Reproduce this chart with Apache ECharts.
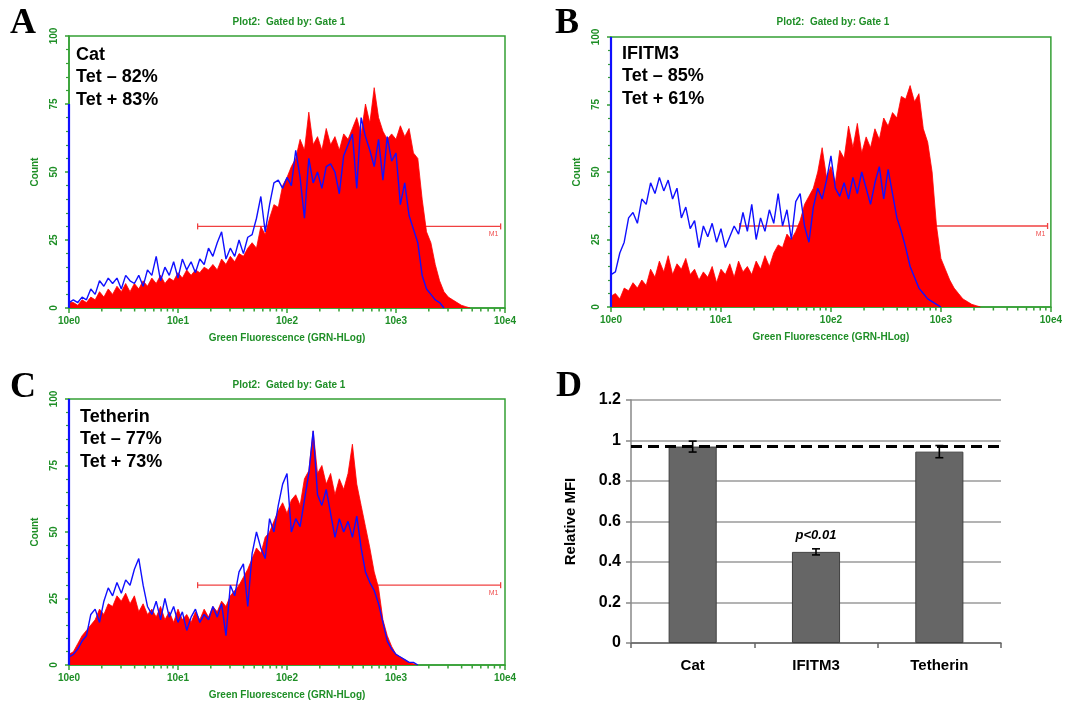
<!DOCTYPE html>
<html>
<head>
<meta charset="utf-8">
<script src="https://cdn.jsdelivr.net/npm/echarts@6/dist/echarts.min.js"></script>
<style>
html, body { margin: 0; padding: 0; background: #fff; }
#main { width: 1065px; height: 701px; }
</style>
</head>
<body>
<div id="main"></div>
<script>
// histogram bins: index i sits at decade i * binWidth (log10 of GRN-HLog)
var binWidth = 0.04;
var xTickLabels = ['10e0', '10e1', '10e2', '10e3', '10e4'];

// A - Cat
var catRed = [2, 2,1,3,2,4,3,6,4,7,5,8,6, 9,6,9,7,10,8,11,9,12,9,11,10, 13,11,14,12,14,13,15,14,16,14,18,16,
  19,17,20,19,22,24,22,30,27,33,38,37,45, 48,52,55,62,58,72,60,63,58,66,60,63,58,
  64,62,66,70,64,75,68,81,70,65,62,64, 62,67,63,66,57,55,40,28,24,16,10,6,4,3,2,1,0.5,0];
var catBlue = [2, 3,2,4,3,7,5,10,8,11,9,11,7, 12,10,9,12,8,14,12,19,10,15,12,17, 11,18,14,17,13,18,16,22,19,24,28,18,
  22,19,25,20,26,27,33,41,28,38,46,47,44, 48,45,58,48,33,55,46,50,44,52,53,50,42,
  56,60,64,44,70,63,58,52,62,47,63,54, 57,38,46,34,29,24,12,7,5,3,2,0];
var catSpikes = [50, 75];          // red, blue count at 10e0
var catGate = [1.18, 3.96, 30];    // M1 from, to (decades), level
var catText = ['Cat', 'Tet \u2013 82%', 'Tet + 83%'];

// B - IFITM3
var ifitmRed = [4, 5,3,7,6,9,7,10,8,14,11,17,13, 19,12,16,14,18,12,14,10,13,11,15,9, 14,12,16,11,17,13,15,12,17,14,19,15,
  20,23,22,27,25,28,32,38,41,44,50,59,48, 52,46,58,55,67,59,68,57,63,59,66,62,70,
  67,72,70,78,77,82,76,79,66,61,50,30, 18,14,10,7,5,3,2,1,0.5,0];
var ifitmBlue = [12, 13,20,24,33,35,31,40,38,46,42,48,43, 47,40,44,33,37,29,32,22,30,26,31,24, 29,22,26,30,27,35,28,38,25,33,28,36,
  31,42,30,36,25,39,42,30,24,37,44,40,47, 56,44,41,46,40,48,42,50,44,38,46,52,40,
  51,42,33,28,22,15,11,7,5,3,2,1, 0];
var ifitmSpikes = [41, 100];
var ifitmGate = [1.17, 3.97, 30];
var ifitmText = ['IFITM3', 'Tet \u2013 85%', 'Tet + 61%'];

// C - Tetherin
var tethRed = [4, 5,8,11,13,15,17,21,19,23,22,26,24, 27,23,26,20,23,19,21,18,22,17,20,16, 21,17,19,16,20,17,21,18,22,20,24,22,
  26,28,30,33,36,40,44,42,48,50,54,58,61, 57,62,64,60,70,73,88,72,75,68,72,64,70,
  66,72,83,68,60,52,44,35,29,17,11,7, 4,3,2,1,0.5,0];
var tethBlue = [3, 4,6,9,11,19,21,16,24,29,26,31,27, 32,30,36,40,30,22,19,24,17,25,18,22, 16,20,13,18,21,16,19,17,22,18,23,11,
  30,26,35,38,22,42,50,44,40,55,50,60,68, 72,50,55,52,62,72,88,64,60,66,57,48,55,
  50,54,48,56,44,35,31,28,23,16,9,6, 4,3,2,1,1,0];
var tethSpikes = [36, 100];
var tethGate = [1.18, 3.96, 30];
var tethText = ['Tetherin', 'Tet \u2013 77%', 'Tet + 73%'];

// D - relative MFI
var categories = ['Cat', 'IFITM3', 'Tetherin'];
var mfi = [0.97, 0.45, 0.945];
var mfiErr = [0.027, 0.015, 0.03];
var refLine = 0.975;
var pIndex = 1;
var pText = 'p<0.01';

var green = '#35a035';
var textGreen = '#1f8f27';

var myChart = echarts.init(document.getElementById('main'), null, { renderer: 'canvas' });

var panels = [
  { red: catRed, blue: catBlue, spikes: catSpikes, gate: catGate, text: catText,
    grid: { left: 69, top: 36, width: 436, height: 272 }, letter: 'A', letterPos: [10, 24],
    titlePos: [289, 22], textPos: [76, 55] },
  { red: ifitmRed, blue: ifitmBlue, spikes: ifitmSpikes, gate: ifitmGate, text: ifitmText,
    grid: { left: 611, top: 37, width: 440, height: 270 }, letter: 'B', letterPos: [555, 24],
    titlePos: [833, 22], textPos: [622, 54] },
  { red: tethRed, blue: tethBlue, spikes: tethSpikes, gate: tethGate, text: tethText,
    grid: { left: 69, top: 399, width: 436, height: 273 }, letter: 'C', letterPos: [10, 388],
    titlePos: [289, 385], textPos: [80, 417] }
];

function toPairs(arr) {
  return arr.map(function (v, i) { return [+(i * binWidth).toFixed(2), v]; });
}

// log-spaced minor ticks (2..9 inside each decade)
var minorTicks = [];
for (var d = 0; d < 4; d++) {
  for (var k = 2; k <= 9; k++) minorTicks.push([d + Math.log10(k), 0]);
}

var grids = [], xAxes = [], yAxes = [], series = [], graphics = [];

function txt(x, y, text, font, fill, align, valign) {
  return {
    type: 'text', x: x, y: y, silent: true,
    style: { text: text, font: font, fill: fill,
      align: align, verticalAlign: valign, textAlign: align, textVerticalAlign: valign }
  };
}

panels.forEach(function (p, gi) {
  grids.push(Object.assign({ show: true, borderColor: green, borderWidth: 1.5, containLabel: false }, p.grid));
  xAxes.push({
    gridIndex: gi, type: 'value', min: 0, max: 4, interval: 1,
    name: 'Green Fluorescence (GRN-HLog)', nameLocation: 'middle', nameGap: 25,
    nameTextStyle: { color: textGreen, fontSize: 10, fontWeight: 'bold', fontFamily: 'Liberation Sans' },
    axisLine: { lineStyle: { color: green, width: 1.5 } },
    axisTick: { show: true, length: 5, lineStyle: { color: green, width: 1.5 } },
    axisLabel: { color: textGreen, fontSize: 10, fontWeight: 'bold', fontFamily: 'Liberation Sans', margin: 8,
      showMinLabel: true, showMaxLabel: true,
      formatter: function (v) { return xTickLabels[Math.round(v)]; } },
    splitLine: { show: false }
  });
  yAxes.push({
    gridIndex: gi, type: 'value', min: 0, max: 100, interval: 25,
    name: 'Count', nameLocation: 'middle', nameGap: 29,
    nameTextStyle: { color: textGreen, fontSize: 10, fontWeight: 'bold', fontFamily: 'Liberation Sans' },
    axisLine: { show: true, lineStyle: { color: green, width: 1.5 } },
    axisTick: { show: true, length: 4, lineStyle: { color: green, width: 1.5 } },
    minorTick: { show: true, splitNumber: 5, length: 3, lineStyle: { color: green, width: 1.2 } },
    axisLabel: { color: textGreen, fontSize: 10, fontWeight: 'bold', fontFamily: 'Liberation Sans',
      rotate: 90, margin: 10, showMinLabel: true, showMaxLabel: true },
    splitLine: { show: false }
  });

  // M1 gate marker, behind the red histogram
  series.push({
    type: 'custom', xAxisIndex: gi, yAxisIndex: gi, z: 1, silent: true, clip: false,
    data: [p.gate],
    renderItem: function (params, api) {
      var a = api.coord([api.value(0), api.value(2)]);
      var b = api.coord([api.value(1), api.value(2)]);
      var st = { stroke: '#f04040', lineWidth: 1.3 };
      return { type: 'group', children: [
        { type: 'line', shape: { x1: a[0], y1: a[1], x2: b[0], y2: b[1] }, style: st },
        { type: 'line', shape: { x1: a[0], y1: a[1] - 3, x2: a[0], y2: a[1] + 3 }, style: st },
        { type: 'line', shape: { x1: b[0], y1: b[1] - 3, x2: b[0], y2: b[1] + 3 }, style: st },
        { type: 'text', x: b[0] - 7, y: b[1] + 8,
          style: { text: 'M1', font: '7px "Liberation Sans"', fill: '#f05050',
            align: 'center', verticalAlign: 'middle', textAlign: 'center', textVerticalAlign: 'middle' } }
      ] };
    }
  });

  series.push({
    type: 'line', xAxisIndex: gi, yAxisIndex: gi, z: 2, data: toPairs(p.red),
    showSymbol: false, symbol: 'none', smooth: false,
    lineStyle: { color: '#ff0000', width: 0.8 },
    areaStyle: { color: '#ff0000', opacity: 1 }
  });
  series.push({
    type: 'line', xAxisIndex: gi, yAxisIndex: gi, z: 3, data: [[0, 0], [0, p.spikes[0]]],
    symbol: 'none', lineStyle: { color: '#ff0000', width: 2 }
  });
  series.push({
    type: 'line', xAxisIndex: gi, yAxisIndex: gi, z: 4, data: toPairs(p.blue),
    showSymbol: false, symbol: 'none', smooth: false,
    lineStyle: { color: '#1010ff', width: 1.4 }
  });
  series.push({
    type: 'line', xAxisIndex: gi, yAxisIndex: gi, z: 4, data: [[0, 0], [0, p.spikes[1]]],
    symbol: 'none', lineStyle: { color: '#1010ff', width: 2.2 }
  });
  // log minor ticks under the x axis
  series.push({
    type: 'custom', xAxisIndex: gi, yAxisIndex: gi, z: 5, silent: true, clip: false,
    data: minorTicks,
    renderItem: function (params, api) {
      var c = api.coord([api.value(0), 0]);
      return { type: 'line', shape: { x1: c[0], y1: c[1], x2: c[0], y2: c[1] + 3.5 },
        style: { stroke: green, lineWidth: 1.5 } };
    }
  });

  graphics.push(txt(p.letterPos[0], p.letterPos[1], p.letter, 'bold 36px "Liberation Serif"', '#000', 'left', 'middle'));
  graphics.push(txt(p.titlePos[0], p.titlePos[1], 'Plot2:  Gated by: Gate 1', 'bold 10px "Liberation Sans"', textGreen, 'center', 'middle'));
  p.text.forEach(function (line, li) {
    graphics.push(txt(p.textPos[0], p.textPos[1] + li * 22.5, line, 'bold 18px "Liberation Sans"', '#000', 'left', 'middle'));
  });
});

// panel D
var bg = grids.length;
grids.push({ left: 631, top: 400, width: 370, height: 243, containLabel: false });
xAxes.push({
  gridIndex: bg, type: 'category', data: categories,
  axisLine: { lineStyle: { color: '#666', width: 1.5 } },
  axisTick: { show: true, alignWithLabel: false, length: 5, lineStyle: { color: '#666', width: 1.5 } },
  axisLabel: { color: '#000', fontSize: 15, fontWeight: 'bold', fontFamily: 'Liberation Sans', margin: 15 }
});
yAxes.push({
  gridIndex: bg, type: 'value', min: 0, max: 1.2, interval: 0.2,
  name: 'Relative MFI', nameLocation: 'middle', nameGap: 53,
  nameTextStyle: { color: '#000', fontSize: 15, fontWeight: 'bold', fontFamily: 'Liberation Sans' },
  axisLine: { show: true, lineStyle: { color: '#888', width: 1.5 } },
  axisTick: { show: true, length: 5, lineStyle: { color: '#888', width: 1.5 } },
  axisLabel: { color: '#000', fontSize: 16, fontWeight: 'bold', fontFamily: 'Liberation Sans', margin: 10 },
  splitLine: { show: true, lineStyle: { color: '#9a9a9a', width: 1.5 } }
});
series.push({
  type: 'bar', xAxisIndex: bg, yAxisIndex: bg, barWidth: '39%', z: 2,
  itemStyle: { color: '#666666', borderColor: '#404040', borderWidth: 1 },
  data: mfi.map(function (v, i) {
    if (i !== pIndex) return v;
    return { value: v, label: { show: true, position: 'top', distance: 10, formatter: pText,
      color: '#000', fontSize: 13, fontWeight: 'bold', fontStyle: 'italic', fontFamily: 'Liberation Sans' } };
  }),
  markLine: {
    silent: true, symbol: ['none', 'none'], label: { show: false },
    lineStyle: { color: '#000', type: [11, 6], width: 3 },
    data: [{ yAxis: refLine }]
  }
});
series.push({
  type: 'custom', xAxisIndex: bg, yAxisIndex: bg, z: 5, silent: true,
  data: mfi.map(function (v, i) { return [i, v - mfiErr[i], v + mfiErr[i]]; }),
  renderItem: function (params, api) {
    var lo = api.coord([api.value(0), api.value(1)]);
    var hi = api.coord([api.value(0), api.value(2)]);
    var st = { stroke: '#000', lineWidth: 1.6 };
    return { type: 'group', children: [
      { type: 'line', shape: { x1: lo[0], y1: lo[1], x2: hi[0], y2: hi[1] }, style: st },
      { type: 'line', shape: { x1: lo[0] - 4, y1: lo[1], x2: lo[0] + 4, y2: lo[1] }, style: st },
      { type: 'line', shape: { x1: hi[0] - 4, y1: hi[1], x2: hi[0] + 4, y2: hi[1] }, style: st }
    ] };
  }
});
graphics.push(txt(556, 387, 'D', 'bold 36px "Liberation Serif"', '#000', 'left', 'middle'));

var option = {
  animation: false,
  backgroundColor: '#fff',
  grid: grids,
  xAxis: xAxes,
  yAxis: yAxes,
  series: series,
  graphic: { elements: graphics }
};
myChart.setOption(option);
</script>
</body>
</html>
